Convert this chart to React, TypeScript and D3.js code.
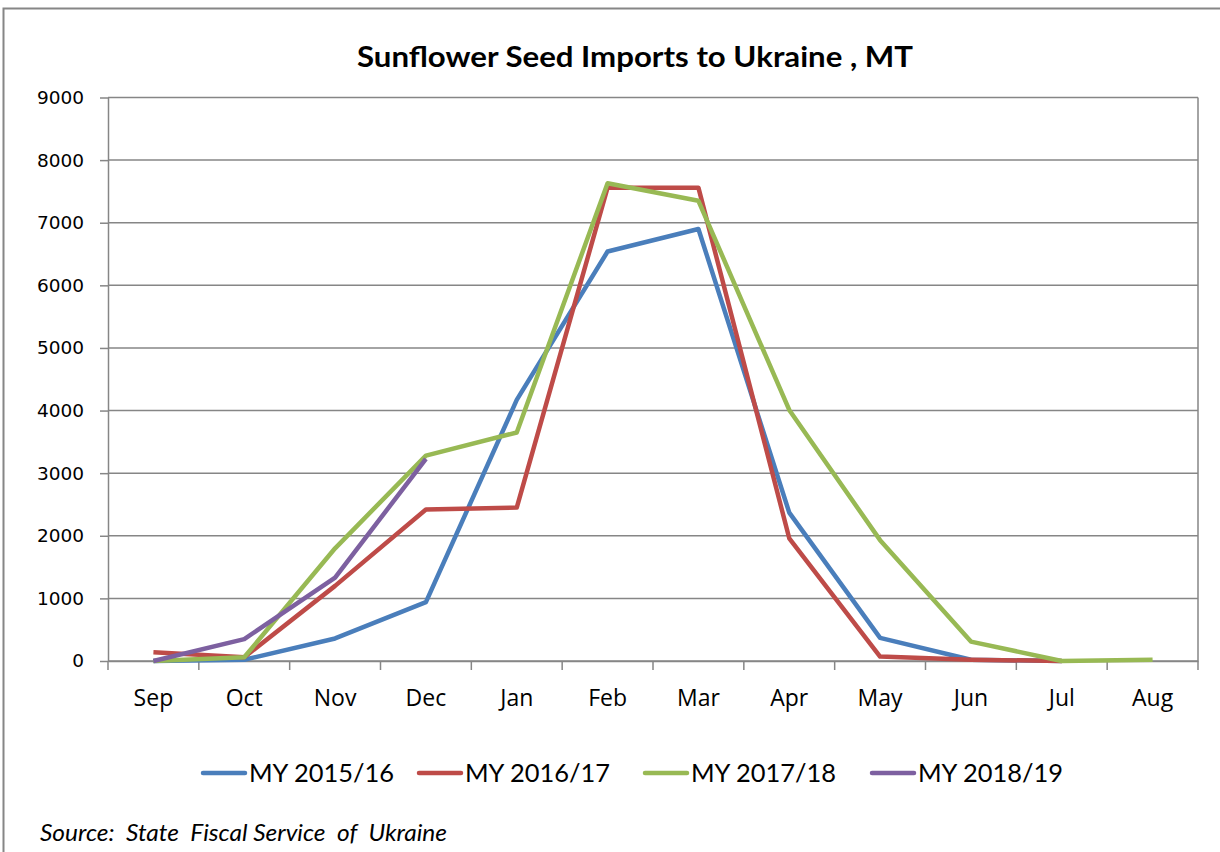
import React, { useRef, useEffect } from 'react';
import * as d3 from 'd3';

const months = ['Sep', 'Oct', 'Nov', 'Dec', 'Jan', 'Feb', 'Mar', 'Apr', 'May', 'Jun', 'Jul', 'Aug'];
const yTicks = [0, 1000, 2000, 3000, 4000, 5000, 6000, 7000, 8000, 9000];

const my1516 = [0, 20, 360, 940, 4170, 6540, 6900, 2370, 370, 20, 0, null];
const my1617 = [140, 60, 1200, 2420, 2450, 7560, 7560, 1960, 70, 20, 0, null];
const my1718 = [0, 60, 1800, 3280, 3650, 7630, 7350, 4010, 1930, 310, 0, 20];
const my1819 = [0, 350, 1330, 3230, null, null, null, null, null, null, null, null];

const seriesNames = ['MY 2015/16', 'MY 2016/17', 'MY 2017/18', 'MY 2018/19'];
const seriesColors = ['#4a7ebb', '#be4b48', '#98b954', '#7d60a0'];

const App = () => {
    const svgRef = useRef(null);

    useEffect(() => {
        const svg = d3.select(svgRef.current);
        svg.selectAll('*').remove();

        const W = 1220, H = 852;
        const left = 108, right = 1198, top = 97.5, bottom = 661;

        // outer chart border
        svg.append('rect')
            .attr('x', 3.5).attr('y', 8.5)
            .attr('width', W + 20).attr('height', H + 20)
            .attr('fill', 'white')
            .attr('stroke', '#868686').attr('stroke-width', 2);

        svg.append('text')
            .attr('x', 635).attr('y', 67)
            .attr('text-anchor', 'middle')
            .attr('textLength', 556)
            .attr('lengthAdjust', 'spacingAndGlyphs')
            .style('font-family', 'Lato, "Open Sans", sans-serif')
            .style('font-weight', 'bold')
            .style('font-size', '29px')
            .text('Sunflower Seed Imports to Ukraine , MT');

        const x = d3.scaleBand().domain(months).range([left, right]);
        const y = d3.scaleLinear().domain([0, 9000]).range([bottom, top]);

        // gridlines
        svg.append('g')
            .selectAll('line')
            .data(yTicks)
            .enter().append('line')
            .attr('x1', left).attr('x2', right)
            .attr('y1', d => y(d)).attr('y2', d => y(d))
            .attr('stroke', '#868686').attr('stroke-width', 1.5);

        // right border of plot
        svg.append('line')
            .attr('x1', right).attr('x2', right)
            .attr('y1', top).attr('y2', bottom)
            .attr('stroke', '#868686').attr('stroke-width', 1.5);

        // y axis
        const yAxis = svg.append('g')
            .attr('transform', `translate(${left},0)`)
            .call(d3.axisLeft(y).tickValues(yTicks).tickFormat(d3.format('d')).tickSize(8).tickPadding(16).tickSizeOuter(0));
        yAxis.select('.domain').attr('stroke', '#868686').attr('stroke-width', 1.5);
        yAxis.selectAll('.tick line').attr('stroke', '#868686').attr('stroke-width', 1.5);
        yAxis.selectAll('text')
            .style('font-family', '"DejaVu Sans", sans-serif')
            .style('font-size', '18.5px')
            .attr('fill', '#000');

        // x axis
        const xAxis = svg.append('g')
            .attr('transform', `translate(0,${bottom})`)
            .call(d3.axisBottom(x).tickSize(0).tickPadding(29).tickSizeOuter(0));
        xAxis.select('.domain').attr('stroke', '#868686').attr('stroke-width', 1.5);
        xAxis.selectAll('text')
            .style('font-family', '"Open Sans", sans-serif')
            .style('font-size', '23px')
            .attr('fill', '#000');

        // category boundary ticks
        const bounds = months.map(m => x(m)).concat([right]);
        svg.append('g')
            .selectAll('line')
            .data(bounds)
            .enter().append('line')
            .attr('x1', d => d).attr('x2', d => d)
            .attr('y1', bottom).attr('y2', bottom + 9)
            .attr('stroke', '#868686').attr('stroke-width', 1.5);

        const line = d3.line()
            .defined(d => d != null)
            .x((d, i) => x(months[i]) + x.bandwidth() / 2)
            .y(d => y(d));

        const allSeries = [my1516, my1617, my1718, my1819];
        allSeries.forEach((s, i) => {
            svg.append('path')
                .datum(s)
                .attr('d', line)
                .attr('fill', 'none')
                .attr('stroke', seriesColors[i])
                .attr('stroke-width', 4.5)
                .attr('stroke-linejoin', 'round');
        });

        // legend
        const legendX = [203, 419, 645, 872];
        const legend = svg.append('g');
        seriesNames.forEach((name, i) => {
            legend.append('line')
                .attr('x1', legendX[i]).attr('x2', legendX[i] + 42)
                .attr('y1', 773).attr('y2', 773)
                .attr('stroke', seriesColors[i]).attr('stroke-width', 4.5)
                .attr('stroke-linecap', 'round');
            legend.append('text')
                .attr('x', legendX[i] + 46).attr('y', 782)
                .attr('textLength', 145)
                .attr('lengthAdjust', 'spacingAndGlyphs')
                .style('font-family', 'Lato, "Open Sans", sans-serif')
                .style('font-size', '25px')
                .text(name);
        });

        svg.append('text')
            .attr('x', 40).attr('y', 841)
            .attr('textLength', 407)
            .attr('lengthAdjust', 'spacingAndGlyphs')
            .style('font-family', 'Lato, "Open Sans", sans-serif')
            .style('font-style', 'italic')
            .style('font-size', '23px')
            .style('white-space', 'pre')
            .text('Source:  State  Fiscal Service  of  Ukraine');
    }, []);

    return (
        <svg ref={svgRef} width={1220} height={852}
            style={{ position: 'absolute', left: 0, top: 0, background: 'white' }}></svg>
    );
};

export default App;
